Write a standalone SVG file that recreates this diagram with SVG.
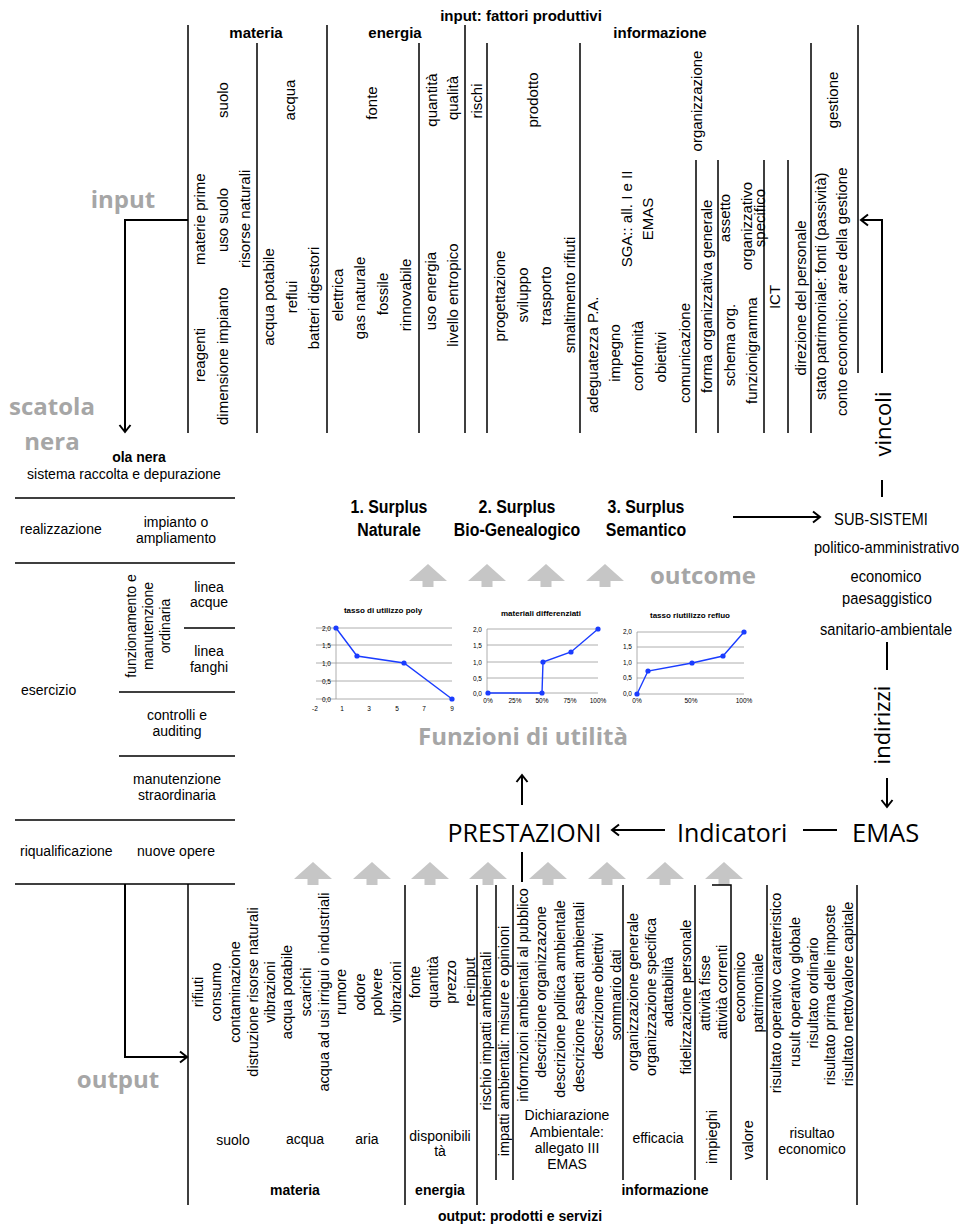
<svg xmlns="http://www.w3.org/2000/svg" width="960" height="1224" viewBox="0 0 960 1224">
<defs>
<style>
text{font-family:"Liberation Sans",Arial,sans-serif;fill:#000}
.r{font-size:15px}
.rb{font-size:14.5px}
.h{font-size:14px}
.hb{font-size:15px;font-weight:bold}
.hb2{font-size:14px;font-weight:bold}
.m{text-anchor:middle}
.e{text-anchor:end}
.ln{stroke:#000;stroke-width:1.5;fill:none}
.tl{stroke:#000;stroke-width:1.3;fill:none}
.gr{font-family:"Open Sans",sans-serif;font-weight:bold;font-size:24px;fill:#a6a6a6}
.big{font-family:"Open Sans",sans-serif;font-size:25px}
.cn{stroke:#000;stroke-width:2;fill:none}
.grid{stroke:#9a9a9a;stroke-width:0.8}
.ct{font-size:8px;font-weight:bold;text-anchor:middle}
.cl{font-size:6.5px}
.data{stroke:#1a3cff;stroke-width:1.4;fill:none}
.pt{fill:#1a3cff}
.sp{font-size:18.5px;font-weight:bold;text-anchor:middle}
.ss{font-size:16.5px;text-anchor:middle}
</style>
<marker id="ah" markerUnits="userSpaceOnUse" markerWidth="14" markerHeight="14" refX="10" refY="7" orient="auto"><path d="M3,1.5 L10,7 L3,12.5" fill="none" stroke="#000" stroke-width="2"/></marker>
<path id="ga" d="M0,0 L19,17 L5.5,17 L5.5,23 L-5.5,23 L-5.5,17 L-19,17 Z" fill="#c6c6c6"/>
</defs>
<rect width="960" height="1224" fill="#fff"/>

<g id="input-block">
<text class="hb m" x="521" y="21">input: fattori produttivi</text>
<text class="hb m" x="256" y="38">materia</text>
<text class="hb m" x="395" y="38">energia</text>
<text class="hb m" x="660" y="38">informazione</text>
<path class="ln" d="M188,25V433M327,25V433M465,25V433M858,25V433M257,43V433M419,43V433M487,43V433M580,43V433M811,43V433M696,160V433M718,160V433M764,160V433M788,160V433"/>
<g class="r m">
<text transform="translate(228,100) rotate(-90)">suolo</text>
<text transform="translate(295,100) rotate(-90)">acqua</text>
<text transform="translate(377,103) rotate(-90)">fonte</text>
<text transform="translate(437,100) rotate(-90)">quantità</text>
<text transform="translate(458,98) rotate(-90)">qualità</text>
<text transform="translate(482,101) rotate(-90)">rischi</text>
<text transform="translate(538,100) rotate(-90)">prodotto</text>
<text transform="translate(702,101) rotate(-90)">organizzazione</text>
<text transform="translate(838,100) rotate(-90)">gestione</text>
<text transform="translate(274,297) rotate(-90)">acqua potabile</text>
<text transform="translate(297,297) rotate(-90)">reflui</text>
<text transform="translate(319,298) rotate(-90)">batteri digestori</text>
<text transform="translate(343,295) rotate(-90)">elettrica</text>
<text transform="translate(365,298) rotate(-90)">gas naturale</text>
<text transform="translate(388,294) rotate(-90)">fossile</text>
<text transform="translate(411,295) rotate(-90)">rinnovabile</text>
<text transform="translate(436,291) rotate(-90)">uso energia</text>
<text transform="translate(458,295) rotate(-90)">livello entropico</text>
<text transform="translate(505,296) rotate(-90)">progettazione</text>
<text transform="translate(528,295) rotate(-90)">sviluppo</text>
<text transform="translate(551,296) rotate(-90)">trasporto</text>
<text transform="translate(575,295) rotate(-90)">smaltimento rifiuti</text>
<text transform="translate(620,353) rotate(-90)">impegno</text>
<text transform="translate(643,356) rotate(-90)">conformità</text>
<text transform="translate(666,357) rotate(-90)">obiettivi</text>
<text transform="translate(632,219) rotate(-90)">SGA:: all. I e II</text>
<text transform="translate(653,219) rotate(-90)">EMAS</text>
<text transform="translate(730,218) rotate(-90)">assetto</text>
<text transform="translate(752,226) rotate(-90)">organizzativo</text>
<text transform="translate(765,218) rotate(-90)">specifico</text>
<text transform="translate(735,345) rotate(-90)">schema org.</text>
<text transform="translate(780,297) rotate(-90)">ICT</text>
<text transform="translate(806,298) rotate(-90)">direzione del personale</text>
</g>
<g class="r">
<text transform="translate(205,265) rotate(-90)">materie prime</text>
<text transform="translate(205,382) rotate(-90)">reagenti</text>
<text transform="translate(228,252) rotate(-90)">uso suolo</text>
<text transform="translate(228,425) rotate(-90)">dimensione impianto</text>
<text transform="translate(250,268) rotate(-90)">risorse naturali</text>
<text transform="translate(598,413) rotate(-90)">adeguatezza P.A.</text>
<text transform="translate(690,403) rotate(-90)">comunicazione</text>
<text transform="translate(712,393) rotate(-90)">forma organizzativa generale</text>
<text transform="translate(757,404) rotate(-90)">funzionigramma</text>
<text transform="translate(826,400) rotate(-90)">stato patrimoniale: fonti (passività)</text>
<text transform="translate(847,416) rotate(-90)">conto economico: aree della gestione</text>
</g>
</g>

<g id="scatola-nera">
<text class="hb2 m" x="139" y="462">ola nera</text>
<text class="h m" x="124" y="479">sistema raccolta e depurazione</text>
<path class="tl" d="M15,498H235M15,563H235M184,628H235M119,692H235M119,756H235M15,820H235M15,884H235"/>
<text class="h" x="20" y="534">realizzazione</text>
<text class="h m" x="176" y="527">impianto o</text>
<text class="h m" x="176" y="543">ampliamento</text>
<g class="h m">
<text transform="translate(136,626) rotate(-90)">funzionamento e</text>
<text transform="translate(153,626) rotate(-90)">manutenzione</text>
<text transform="translate(170,626) rotate(-90)">ordinaria</text>
</g>
<text class="h m" x="209" y="592">linea</text>
<text class="h m" x="209" y="607">acque</text>
<text class="h m" x="209" y="656">linea</text>
<text class="h m" x="209" y="672">fanghi</text>
<text class="h" x="21" y="695">esercizio</text>
<text class="h m" x="177" y="720">controlli e</text>
<text class="h m" x="177" y="736">auditing</text>
<text class="h m" x="177" y="784">manutenzione</text>
<text class="h m" x="177" y="800">straordinaria</text>
<text class="h" x="20" y="856">riqualificazione</text>
<text class="h m" x="176" y="856">nuove opere</text>
</g>

<g id="surplus">
<text class="sp" transform="translate(389,513) scale(0.86,1)">1. Surplus</text>
<text class="sp" transform="translate(389,536) scale(0.86,1)">Naturale</text>
<text class="sp" transform="translate(517,513) scale(0.86,1)">2. Surplus</text>
<text class="sp" transform="translate(517,536) scale(0.86,1)">Bio-Genealogico</text>
<text class="sp" transform="translate(646,513) scale(0.86,1)">3. Surplus</text>
<text class="sp" transform="translate(646,536) scale(0.86,1)">Semantico</text>
</g>

<g id="outcome-arrows">
<use href="#ga" x="428" y="564"/><use href="#ga" x="487" y="564"/><use href="#ga" x="546" y="564"/><use href="#ga" x="605" y="564"/>
<use href="#ga" x="313" y="862"/><use href="#ga" x="372" y="862"/><use href="#ga" x="430" y="862"/><use href="#ga" x="488" y="862"/><use href="#ga" x="548" y="862"/><use href="#ga" x="607" y="862"/><use href="#ga" x="665" y="862"/><use href="#ga" x="724" y="862"/>
</g>

<g id="chart-poly">
<text class="ct" x="383" y="613">tasso di utilizzo poly</text>
<path class="grid" d="M316,628H452M316,645H452M316,663H452M316,681H452M316,699H452M336,628V699"/>
<g class="cl">
<text class="e" x="331" y="630.5">2,0</text><text class="e" x="331" y="647.5">1,5</text><text class="e" x="331" y="665.5">1,0</text><text class="e" x="331" y="683.5">0,5</text><text class="e" x="331" y="701.5">0,0</text>
<text class="m" x="315" y="711">-2</text><text class="m" x="342" y="711">1</text><text class="m" x="369" y="711">3</text><text class="m" x="397" y="711">5</text><text class="m" x="424" y="711">7</text><text class="m" x="452" y="711">9</text>
</g>
<polyline class="data" points="336,628 357,656 404,663 452,699"/>
<circle class="pt" cx="336" cy="628" r="2.6"/><circle class="pt" cx="357" cy="656" r="2.6"/><circle class="pt" cx="404" cy="663" r="2.6"/><circle class="pt" cx="452" cy="699" r="2.6"/>
</g>

<g id="chart-materiali">
<text class="ct" x="541" y="616">materiali differenziati</text>
<path class="grid" d="M487,629H598M487,645H598M487,662H598M487,678H598M487,693H598M487,629V693"/>
<g class="cl">
<text class="e" x="482" y="631.5">2,0</text><text class="e" x="482" y="647.5">1,5</text><text class="e" x="482" y="664.5">1,0</text><text class="e" x="482" y="680.5">0,5</text><text class="e" x="482" y="695.5">0,0</text>
<text class="m" x="488" y="703">0%</text><text class="m" x="515" y="703">25%</text><text class="m" x="542" y="703">50%</text><text class="m" x="570" y="703">75%</text><text class="m" x="598" y="703">100%</text>
</g>
<polyline class="data" points="488,693 542,693 543,662 571,652 598,629"/>
<circle class="pt" cx="488" cy="693" r="2.6"/><circle class="pt" cx="542" cy="693" r="2.6"/><circle class="pt" cx="543" cy="662" r="2.6"/><circle class="pt" cx="571" cy="652" r="2.6"/><circle class="pt" cx="598" cy="629" r="2.6"/>
</g>

<g id="chart-refluo">
<text class="ct" x="690" y="618">tasso riutilizzo refluo</text>
<path class="grid" d="M637,632H744M637,647H744M637,663H744M637,678H744M637,694H744M637,632V694"/>
<g class="cl">
<text class="e" x="632" y="634">2,0</text><text class="e" x="632" y="649">1,5</text><text class="e" x="632" y="665">1,0</text><text class="e" x="632" y="680">0,5</text><text class="e" x="632" y="696">0,0</text>
<text class="m" x="637" y="703">0%</text><text class="m" x="691" y="703">50%</text><text class="m" x="744" y="703">100%</text>
</g>
<polyline class="data" points="637,694 648,671 692,663 723,656 744,632"/>
<circle class="pt" cx="637" cy="694" r="2.6"/><circle class="pt" cx="648" cy="671" r="2.6"/><circle class="pt" cx="692" cy="663" r="2.6"/><circle class="pt" cx="723" cy="656" r="2.6"/><circle class="pt" cx="744" cy="632" r="2.6"/>
</g>

<g id="sub-sistemi">
<text class="ss" transform="translate(881,525) scale(0.89,1)">SUB-SISTEMI</text>
<text class="ss" transform="translate(886.5,553) scale(0.89,1)">politico-amministrativo</text>
<text class="ss" transform="translate(886,582) scale(0.89,1)">economico</text>
<text class="ss" transform="translate(887,604) scale(0.89,1)">paesaggistico</text>
<text class="ss" transform="translate(886,635) scale(0.89,1)">sanitario-ambientale</text>
</g>

<g id="emas-chain">
<text class="big m" x="524.5" y="842">PRESTAZIONI</text>
<text class="big" x="677" y="842">Indicatori</text>
<text class="big" x="852" y="842" style="font-size:25.5px">EMAS</text>
</g>

<g id="grey-labels">
<text class="gr m" x="123" y="208">input</text>
<text class="gr m" x="52" y="415">scatola</text>
<text class="gr m" x="52" y="450">nera</text>
<text class="gr" x="650" y="584">outcome</text>
<text class="gr m" x="523" y="745">Funzioni di utilità</text>
<text class="gr m" x="118" y="1088">output</text>
</g>

<g id="output-block">
<path class="ln" d="M188,884V1205M405,885V1205M477,885V1205M857,885V1205M496,885V1180M513,885V1180M623,885V1180M695,885V1180M767,885V1180M712,885H731V1180"/>
<g class="rb m">
<text transform="translate(203,992) rotate(-90)">rifiuti</text>
<text transform="translate(221,992) rotate(-90)">consumo</text>
<text transform="translate(240,992) rotate(-90)">contaminazione</text>
<text transform="translate(258,992) rotate(-90)">distruzione risorse naturali</text>
<text transform="translate(275,992) rotate(-90)">vibrazioni</text>
<text transform="translate(292,992) rotate(-90)">acqua potabile</text>
<text transform="translate(311,992) rotate(-90)">scarichi</text>
<text transform="translate(329,992) rotate(-90)">acqua ad usi irrigui o industriali</text>
<text transform="translate(346,992) rotate(-90)">rumore</text>
<text transform="translate(365,992) rotate(-90)">odore</text>
<text transform="translate(382,992) rotate(-90)">polvere</text>
<text transform="translate(401,992) rotate(-90)">vibrazioni</text>
<text transform="translate(420,982) rotate(-90)">fonte</text>
<text transform="translate(438,982) rotate(-90)">quantità</text>
<text transform="translate(456,982) rotate(-90)">prezzo</text>
<text transform="translate(475,982) rotate(-90)">re-input</text>
<text transform="translate(491,1031) rotate(-90)">rischio impatti ambientali</text>
<text transform="translate(509,1041) rotate(-90)">impatti ambientali: misure e opinioni</text>
<text transform="translate(528,995) rotate(-90)">informzioni ambientali al pubblico</text>
<text transform="translate(546,992) rotate(-90)">descrizione organizzazone</text>
<text transform="translate(565,999) rotate(-90)">descrizione politica ambientale</text>
<text transform="translate(584,997) rotate(-90)">descrizione aspetti ambientali</text>
<text transform="translate(603,996) rotate(-90)">descrizione obiettivi</text>
<text transform="translate(621,995) rotate(-90)">sommario dati</text>
<text transform="translate(638,992) rotate(-90)">organizzazione generale</text>
<text transform="translate(656,997) rotate(-90)">organizzazione specifica</text>
<text transform="translate(673,992) rotate(-90)">adattabilità</text>
<text transform="translate(691,997) rotate(-90)">fidelizzazione personale</text>
<text transform="translate(710,993) rotate(-90)">attività fisse</text>
<text transform="translate(727,992) rotate(-90)">attività correnti</text>
<text transform="translate(745,987) rotate(-90)">economico</text>
<text transform="translate(763,993) rotate(-90)">patrimoniale</text>
<text transform="translate(717,1137) rotate(-90)">impieghi</text>
<text transform="translate(753,1140) rotate(-90)">valore</text>
<text transform="translate(781,993) rotate(-90)">risultato operativo caratteristico</text>
<text transform="translate(800,992) rotate(-90)">rusult operativo globale</text>
<text transform="translate(818,993) rotate(-90)">risultato ordinario</text>
<text transform="translate(835,995) rotate(-90)">risultato prima delle imposte</text>
<text transform="translate(853,994) rotate(-90)">risultato netto/valore capitale</text>
</g>
<g class="h m">
<text x="233" y="1145">suolo</text>
<text x="305" y="1144">acqua</text>
<text x="367" y="1144">aria</text>
<text x="440" y="1141">disponibili</text>
<text x="440" y="1156">tà</text>
<text x="567" y="1120">Dichiarazione</text>
<text x="567" y="1137">Ambientale:</text>
<text x="567" y="1153">allegato III</text>
<text x="567" y="1169">EMAS</text>
<text x="658" y="1143">efficacia</text>
<text x="812" y="1138">risultao</text>
<text x="812" y="1154">economico</text>
</g>
<text class="hb2 m" x="295" y="1195">materia</text>
<text class="hb2 m" x="440" y="1195">energia</text>
<text class="hb2 m" x="665" y="1195">informazione</text>
<text class="hb2 m" x="520" y="1221">output: prodotti e servizi</text>
</g>

<g id="connectors">
<path class="cn" d="M188,220H125V432" marker-end="url(#ah)"/>
<rect x="857" y="373" width="48" height="97" fill="#fff"/>
<path class="cn" d="M882,373V220H861" marker-end="url(#ah)"/>
<path class="cn" d="M125,884V1057H187" marker-end="url(#ah)"/>
<path class="cn" d="M733,517H820" marker-end="url(#ah)"/>
<path class="cn" d="M882,480V497M887,642V670M803,830H837M522,852V882"/>
<path class="cn" d="M887,778V807" marker-end="url(#ah)"/>
<path class="cn" d="M665,830H612" marker-end="url(#ah)"/>
<path class="cn" d="M522,805V775" marker-end="url(#ah)"/>
</g>

<g id="side-labels">
<text class="big" text-anchor="middle" transform="translate(891,424) rotate(-90)" style="font-size:22px">vincoli</text>
<text class="big" text-anchor="middle" transform="translate(890,725) rotate(-90)" style="font-size:22px">indirizzi</text>
</g>
</svg>
